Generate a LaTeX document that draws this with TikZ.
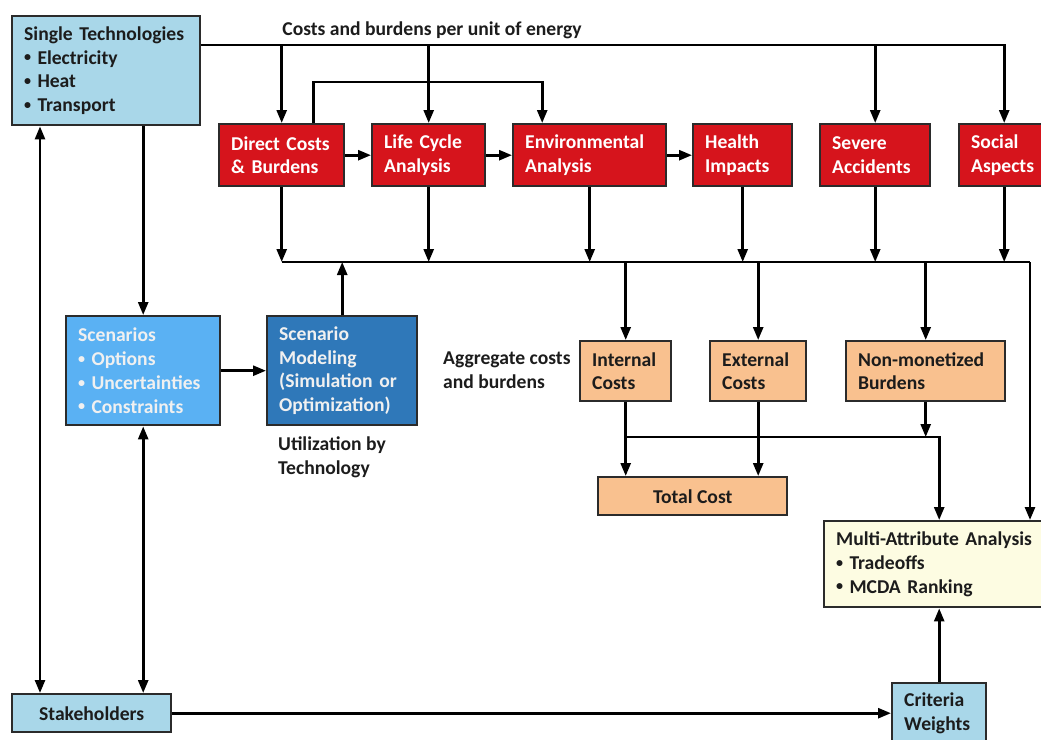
\documentclass[tikz,border=0pt]{standalone}
\usepackage{fontspec}
\setmainfont{Carlito}
\usetikzlibrary{arrows.meta}
\definecolor{techblue}{HTML}{A9D7E9}
\definecolor{scenblue}{HTML}{5AB1F3}
\definecolor{modblue}{HTML}{2F78B9}
\definecolor{impred}{HTML}{D6141C}
\definecolor{costorange}{HTML}{F9C18F}
\definecolor{maacream}{HTML}{FDFCE2}
\definecolor{edge}{HTML}{2B2B2B}
\definecolor{ink}{HTML}{1C1C1C}
\newcommand{\bul}{\raisebox{0.12em}{\scalebox{0.72}{\textbullet}}\hspace{0.32em}}
\tikzset{
  base/.style={draw=edge, line width=2.4pt, inner xsep=12pt, inner ysep=0pt,
    anchor=north west, font=\fontsize{19.6}{23.8}\selectfont\bfseries},
  lbox/.style={base, align=left},
  cbox/.style={base, align=center},
  techbox/.style={fill=techblue, text=ink},
  scenbox/.style={fill=scenblue, text=white!94!black},
  modbox/.style={fill=modblue, text=white!94!black},
  redbox/.style={fill=impred, text=white, minimum height=62pt},
  costbox/.style={fill=costorange, text=ink},
  maabox/.style={fill=maacream, text=ink},
  lbl/.style={font=\fontsize{19.6}{23.8}\selectfont\bfseries, text=ink, inner sep=0pt, align=left},
  wire/.style={draw=black, line width=2.6pt},
  arr/.style={wire, -{Triangle[length=13pt,width=10pt]}},
  darr/.style={wire, {Triangle[length=13pt,width=10pt]}-{Triangle[length=13pt,width=10pt]}},
}
\begin{document}
\begin{tikzpicture}[x=1pt, y=-1pt]
\useasboundingbox (0,0) rectangle (1041,739);

% source and stakeholder boxes
\node[lbox, techbox, text width=164pt, minimum height=109pt] (st) at (11,15)
  {Single Technologies\\\bul Electricity\\\bul Heat\\\bul Transport};
\node[cbox, techbox, minimum width=159pt, minimum height=38pt] (sh) at (11,693) {Stakeholders};
\node[lbox, techbox, text width=70pt, minimum height=60pt] (cw) at (891,682) {Criteria\\Weights};

% impact assessment chain
\node[lbox, redbox, text width=101pt] (dc) at (218,123) {Direct Costs\\\& Burdens};
\node[lbox, redbox, text width=89pt] (lca) at (371,123) {Life Cycle\\Analysis};
\node[lbox, redbox, text width=129pt] (env) at (512,123) {Environmental\\Analysis};
\node[lbox, redbox, text width=75pt] (hi) at (692,123) {Health\\Impacts};
\node[lbox, redbox, text width=86pt] (sa) at (819,123) {Severe\\Accidents};
\node[lbox, redbox, text width=66pt] (soc) at (958,123) {Social\\Aspects};

% scenarios
\node[lbox, scenbox, text width=130pt, minimum height=109pt] (scen) at (65,315)
  {Scenarios\\\bul Options\\\bul Uncertainties\\\bul Constraints};
\node[lbox, modbox, text width=126pt, minimum height=109pt] (mod) at (266,315)
  {Scenario\\Modeling\\(Simulation or\\Optimization)};

% aggregation
\node[lbox, costbox, text width=67pt, minimum height=60pt] (ic) at (579,340) {Internal\\Costs};
\node[lbox, costbox, text width=72pt, minimum height=60pt] (ec) at (709,340) {External\\Costs};
\node[lbox, costbox, text width=135pt, minimum height=60pt] (nm) at (845,340) {Non-monetized\\Burdens};
\node[cbox, costbox, minimum width=189pt, minimum height=38pt] (tc) at (597,476) {Total Cost};
\node[lbox, maabox, text width=201pt, minimum height=86pt] (maa) at (823,520)
  {Multi-Attribute Analysis\\\bul Tradeoffs\\\bul MCDA Ranking};

% free labels
\node[lbl, anchor=center] (toplbl) at (432,30) {Costs and burdens per unit of energy};
\node[lbl, anchor=west] (agglbl) at (443,370) {Aggregate costs\\and burdens};
\node[lbl, anchor=west] (utillbl) at (278,457) {Utilization by\\Technology};

% routing levels
\coordinate (tl) at (0,45);
\coordinate (bl) at (0,262);
\coordinate (cl) at (0,437);
\coordinate (lx) at (40,0);
\coordinate (br) at (1030,262);

% per-unit feed from the technologies
\draw[arr] (st.east |- tl) -| (soc.north);
\draw[arr] (dc.north |- tl) -- (dc.north);
\draw[arr] (lca.north |- tl) -- (lca.north);
\draw[arr] (sa.north |- tl) -- (sa.north);

% chain links
\draw[arr] (dc) -- (lca);
\draw[arr] (lca) -- (env);
\draw[arr] (env) -- (hi);
\draw[arr] ([xshift=31.5pt]dc.north) -- ++(0,-41) -| ([xshift=-47.5pt]env.north);

% collecting bus
\draw[wire] (dc.south |- bl) -- (br);
\foreach \n in {dc,lca,env,hi,sa,soc}
  \draw[arr] (\n.south) -- (\n.south |- bl);
\draw[arr] (br) -- (br |- maa.north);
\draw[arr] (mod.north) -- (mod.north |- bl);
\draw[arr] (ic.north |- bl) -- (ic.north);
\draw[arr] (ec.north |- bl) -- (ec.north);
\draw[arr] (nm.north |- bl) -- (nm.north);

% scenarios and stakeholders
\draw[arr] (st.south -| scen.north) -- (scen.north);
\draw[arr] (scen) -- (mod);
\draw[darr] (st.south -| lx) -- (sh.north -| lx);
\draw[darr] (scen.south) -- (scen.south |- sh.north);
\draw[arr] (sh) -- (cw);
\draw[arr] (cw.north) -- (cw.north |- maa.south);

% cost aggregation
\draw[arr] (ic.south) -- (ic.south |- tc.north);
\draw[arr] (ec.south) -- (ec.south |- tc.north);
\draw[arr] (ic.south |- cl) -| (cw.north |- maa.north);
\draw[arr] (nm.south) -- (nm.south |- cl);
\end{tikzpicture}
\end{document}
